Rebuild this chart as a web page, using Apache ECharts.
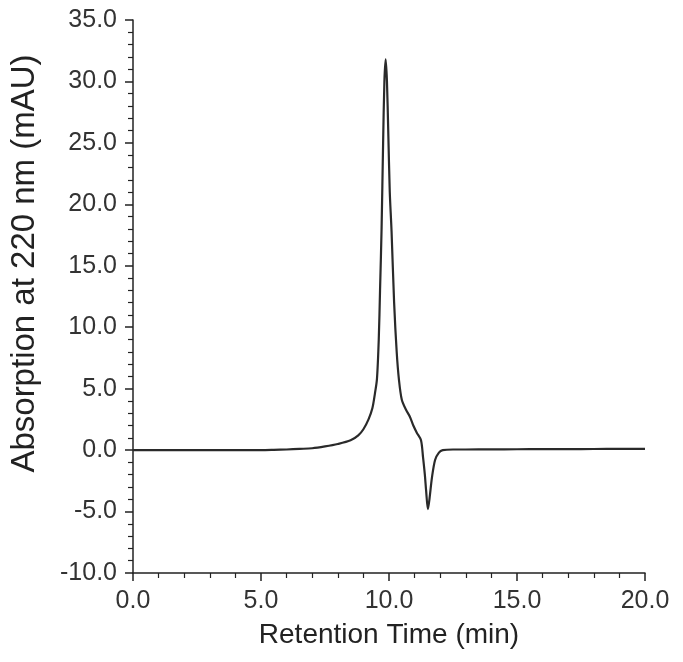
<!DOCTYPE html>
<html>
<head>
<meta charset="utf-8">
<script src="https://cdn.jsdelivr.net/npm/echarts@6/dist/echarts.min.js"></script>
<style>
  html, body { margin: 0; padding: 0; background: #fff; }
  #main { width: 683px; height: 662px; }
</style>
</head>
<body>
<div id="main"></div>
<script>
// retention time (min) and absorbance (mAU)
var times = [0, 1, 2, 3, 4, 5, 5.5, 6, 6.5, 7, 7.5, 8, 8.5, 8.8, 9.0, 9.2, 9.35, 9.45, 9.53,
  9.6, 9.65, 9.71, 9.77, 9.82, 9.87, 9.92, 9.97, 10.03, 10.1, 10.2, 10.3, 10.39, 10.5,
  10.66, 10.82, 10.95, 11.09, 11.25, 11.33, 11.4, 11.45, 11.52, 11.58, 11.68, 11.8,
  11.95, 12.1, 12.5, 13, 14, 15, 16, 17, 18, 19, 20];
var absorb = [0, 0, 0, 0, 0, 0, 0.02, 0.05, 0.1, 0.15, 0.3, 0.5, 0.8, 1.2, 1.7, 2.5, 3.4, 4.6, 5.8,
  9, 13, 18, 25, 30, 31.8, 30, 26, 21, 17.8, 12, 8, 5.7, 4.1,
  3.3, 2.7, 2.0, 1.4, 0.8, -0.6, -2.0, -3.3, -4.8, -4.0, -2.2, -0.8,
  -0.2, 0, 0.05, 0.05, 0.06, 0.07, 0.08, 0.08, 0.09, 0.1, 0.1];

var yTicks = { min: -10, max: 35, step: 5 };
var xTicks = { min: 0, max: 20, step: 5 };

var points = times.map(function (t, i) { return [t, absorb[i]]; });

var myChart = echarts.init(document.getElementById('main'));

var axisCommon = {
    axisLine: { show: true, onZero: false, lineStyle: { color: '#222', width: 1.5 } },
    axisTick: { show: true, length: 8, lineStyle: { color: '#222', width: 1.5 } },
    minorTick: { show: true, splitNumber: 5, length: 5, lineStyle: { color: '#222', width: 1.2 } },
    splitLine: { show: false },
    axisLabel: {
        color: '#333', fontSize: 25, fontFamily: 'Liberation Sans', margin: 16,
        formatter: function (v) { return v.toFixed(1); }
    },
    nameLocation: 'middle'
};

option = {
    animation: false,
    grid: { left: 133, right: 38, top: 20, bottom: 89 },
    xAxis: Object.assign({}, axisCommon, {
        type: 'value',
        min: xTicks.min, max: xTicks.max, interval: xTicks.step,
        name: 'Retention Time (min)',
        nameGap: 48,
        nameTextStyle: { color: '#222', fontSize: 28, fontFamily: 'Liberation Sans' }
    }),
    yAxis: Object.assign({}, axisCommon, {
        type: 'value',
        min: yTicks.min, max: yTicks.max, interval: yTicks.step,
        name: 'Absorption at 220 nm (mAU)',
        nameGap: 92,
        nameTextStyle: {
            color: '#222', fontSize: 33, fontFamily: 'Liberation Sans',
            padding: [0, 0, 0, 66]
        }
    }),
    series: [
        {
            type: 'line',
            data: points,
            smooth: 0.3,
            showSymbol: false,
            lineStyle: { color: '#2a2a2a', width: 2.2 }
        }
    ]
};

myChart.setOption(option);
</script>
</body>
</html>
